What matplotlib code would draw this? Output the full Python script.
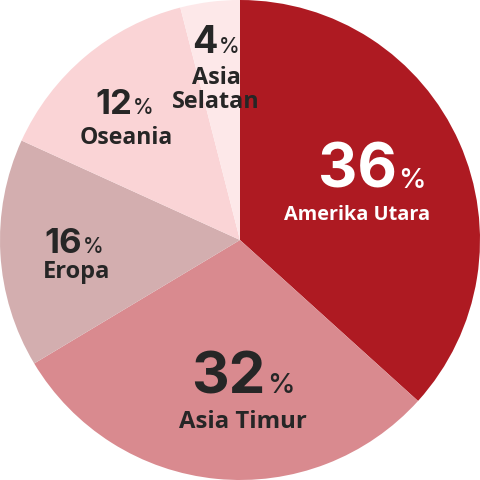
import matplotlib
matplotlib.use("Agg")
import matplotlib.pyplot as plt

regions = ["Amerika Utara", "Asia Timur", "Eropa", "Oseania", "Asia Selatan"]
# shares as drawn in the reference (angles)
slice_shares = [36.7, 29.7, 15.4, 14.2, 4.0]
# percentages as printed
labels_pct = [36, 32, 16, 12, 4]
colors = ["#AE1A22", "#D98A8F", "#D3AEAF", "#FAD4D6", "#FDE8E9"]
text_colors = ["white", "#262626", "#262626", "#262626", "#262626"]
label_texts = ["Amerika Utara", "Asia Timur", "Eropa", "Oseania", "Asia\nSelatan"]

fig = plt.figure(figsize=(4.8, 4.8), dpi=100)
ax = fig.add_axes([0, 0, 1, 1])
ax.pie(slice_shares, colors=colors, startangle=90, counterclock=False, radius=1,
       wedgeprops=dict(edgecolor="none", linewidth=0))
ax.set_xlim(-1, 1)
ax.set_ylim(-1, 1)
ax.set_aspect("equal")
ax.axis("off")

def px(x, y):
    return ((x - 240) / 240, (240 - y) / 240)

# layout: (split x, number baseline y, number size, pct size, label center x, label baseline y, label size)
layout = [
    (399, 188, 44, 20, 357, 220, 14.3),
    (268, 393, 42, 20, 243, 428, 17.2),
    (84, 253, 25, 15, 77, 278, 17),
    (134, 114, 25, 15, 126, 144, 16.6),
    (220, 53, 27, 15, 216, 108, 16.8),
]

num_font = "Inter"
lab_font = "Open Sans"
for v, lab, tc, (sx, nb, ns, ps, lx, lb, ls) in zip(labels_pct, label_texts, text_colors, layout):
    x, y = px(sx, nb)
    ax.text(x - 2 / 240, y, f"{v}", ha="right", va="baseline", fontsize=ns,
            fontweight="bold", family=num_font, color=tc)
    ax.text(x - 1 / 240, y, "%", ha="left", va="baseline", fontsize=ps,
            fontweight="medium", family=num_font, color=tc)
    x2, y2 = px(lx, lb)
    ax.text(x2, y2, lab, ha="center", va="baseline", fontsize=ls,
            fontweight="bold", family=lab_font, color=tc, linespacing=1.0,
            multialignment="center")

fig.savefig("out.png", dpi=100)
